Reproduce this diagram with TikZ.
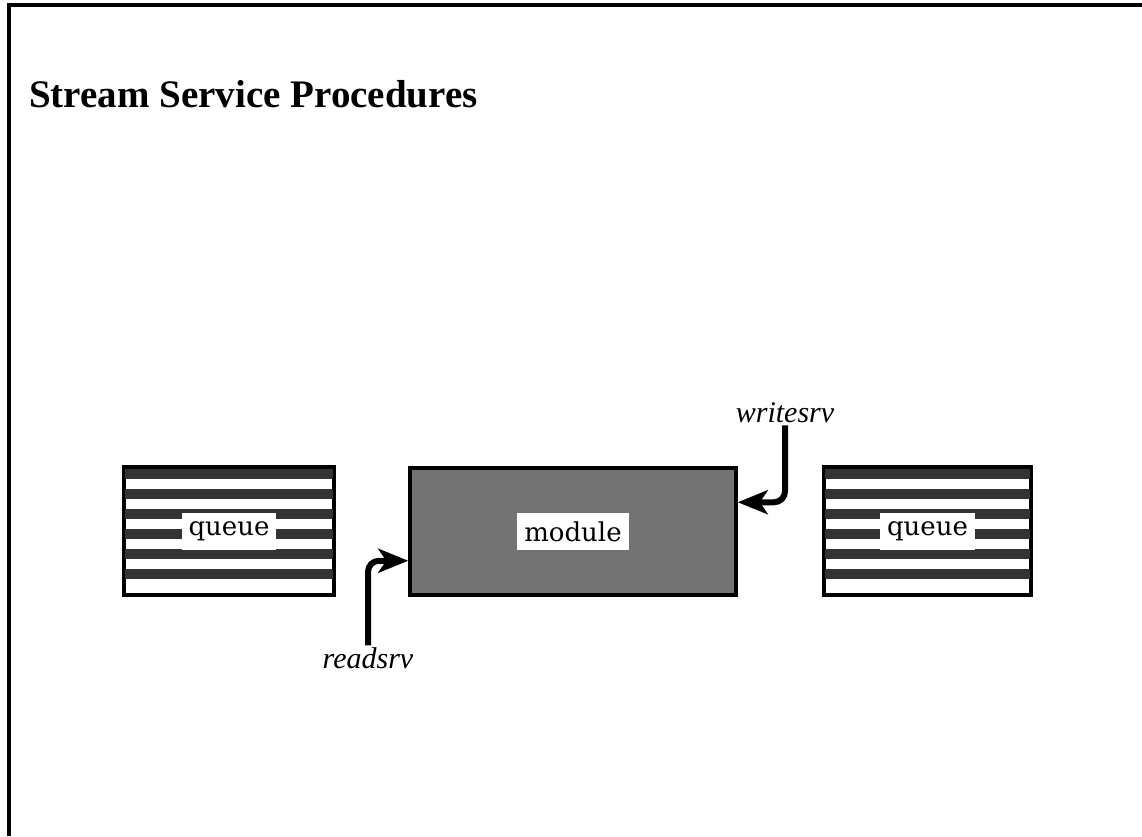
\documentclass[tikz,border=0pt]{standalone}
\usepackage{fontspec}
\setmainfont{Liberation Serif}
\newfontfamily\boxfont{DejaVu Serif}
\usepackage{tikz}
\usetikzlibrary{arrows.meta,positioning,calc}

\begin{document}
\begin{tikzpicture}[x=1pt,y=-1pt,
  queuebox/.style={draw,line width=3.5pt,minimum width=210pt,minimum height=128pt,inner sep=0pt},
  modbox/.style={draw,line width=3.5pt,fill=black!55,minimum width=326pt,minimum height=127pt,inner sep=0pt},
  tag/.style={fill=white,font=\boxfont\fontsize{26}{30}\selectfont,inner xsep=7pt,minimum height=37pt},
  srv/.style={font=\itshape\fontsize{30}{34}\selectfont,inner sep=2pt},
  call/.style={line width=6pt,rounded corners=11pt,-{Stealth[length=30pt,width=24pt,inset=8pt]}}]
  \useasboundingbox (0,0) rectangle (1142,836);

  % frame and title
  \draw[line width=4pt] (9,836) -- (9,5) -- (1142,5);
  \node[anchor=base west,inner sep=0pt,font=\bfseries\fontsize{39}{44}\selectfont] (title) at (29,107) {Stream Service Procedures};

  % the three boxes
  \node[queuebox] (lqueue) at (229,531) {};
  \node[modbox] (module) at (573,531.5) {};
  \node[queuebox,minimum width=207pt] (rqueue) at (927.5,531) {};
  \foreach \q in {lqueue,rqueue}
    \foreach \i in {0,...,5}
      \fill[black!80] ($(\q.north west)+(3,4+20*\i)$) rectangle ($(\q.north east)+(-3,14+20*\i)$);

  \node[tag] (lqtag) at (lqueue) {queue};
  \node[tag] (modtag) at (module) {module};
  \node[tag] (rqtag) at (rqueue) {queue};

  % service procedures
  \node[srv] (wrlbl) at (785,413) {writesrv};
  \node[srv] (rdlbl) at (368,658) {readsrv};
  \coordinate (wrin) at ($(module.north east)+(0,36)$);
  \coordinate (rdin) at ($(module.south west)+(0,-36)$);
  \draw[call] (wrlbl.south) |- (wrin);
  \draw[call] (rdlbl.north) |- (rdin);
\end{tikzpicture}
\end{document}
